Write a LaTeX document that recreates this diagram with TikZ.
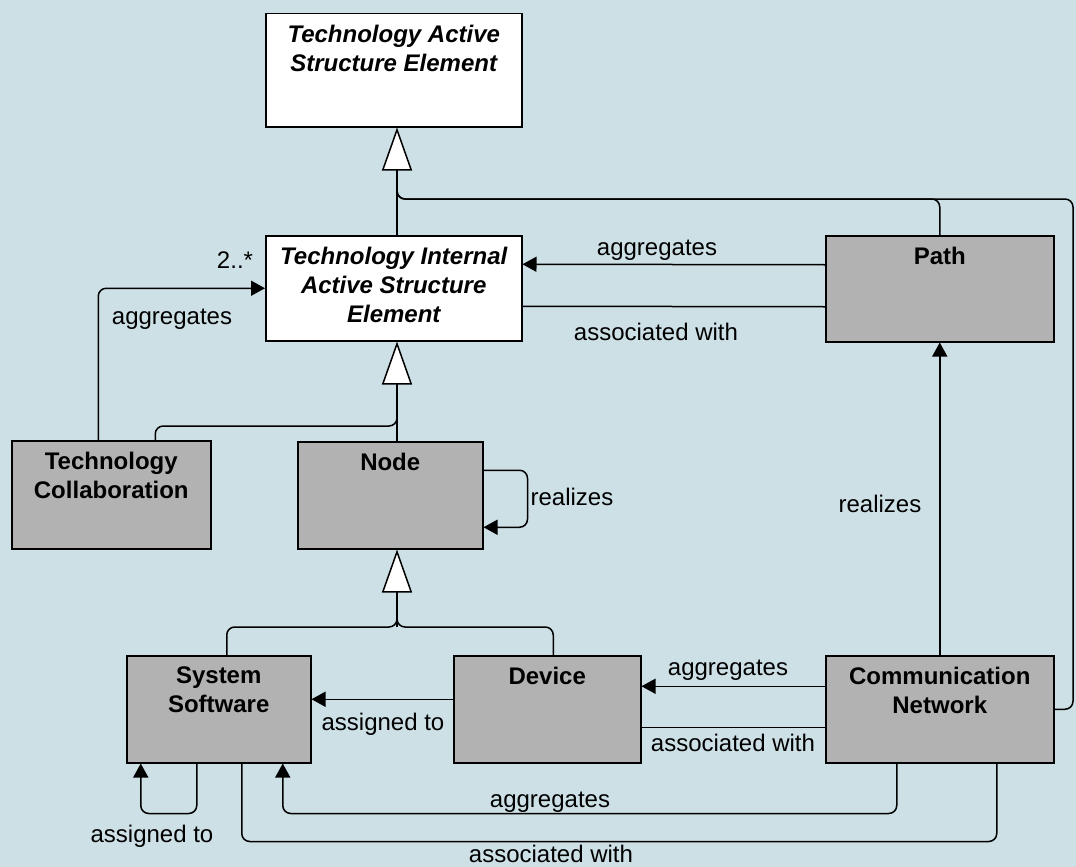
\documentclass[tikz,border=0pt]{standalone}
\usepackage{fontspec}
\setmainfont{Liberation Sans}
\usetikzlibrary{arrows.meta}
\definecolor{bgc}{RGB}{205,224,230}
\definecolor{boxgray}{RGB}{178,178,178}
\begin{document}
\begin{tikzpicture}[x=1pt,y=-1pt,
  ubox/.style={draw=black, line width=1.5pt, anchor=north west, inner sep=0pt},
  wbox/.style={ubox, fill=white},
  gbox/.style={ubox, fill=boxgray},
  boxtitle/.style={font=\fontsize{24}{29}\selectfont\bfseries, align=center, anchor=north, inner sep=0pt},
  iboxtitle/.style={boxtitle, font=\fontsize{24}{29}\selectfont\bfseries\itshape},
  lbl/.style={font=\fontsize{24}{29}\selectfont, anchor=base, inner sep=0pt},
  conn/.style={line width=1.5pt, rounded corners=8pt},
  arr/.style={conn, -{Triangle[length=14pt,width=15pt]}},
  gen/.style={conn, -{Triangle[open, length=43pt, width=30pt, fill=white]}},
]
\fill[bgc] (0,0) rectangle (1076,867);
\useasboundingbox (0,0) rectangle (1076,867);

% boxes
\node[wbox, minimum width=256pt, minimum height=113pt] (tase) at (265,13) {};
\node[wbox, minimum width=256pt, minimum height=105pt] (tiase) at (265,235) {};
\node[gbox, minimum width=228pt, minimum height=106pt] (pth) at (825,235) {};
\node[gbox, minimum width=199pt, minimum height=108pt] (tc) at (11,440) {};
\node[gbox, minimum width=185pt, minimum height=107pt] (nd) at (297,441) {};
\node[gbox, minimum width=184pt, minimum height=107pt] (ss) at (126,655) {};
\node[gbox, minimum width=187pt, minimum height=107pt] (dev) at (453,655) {};
\node[gbox, minimum width=228pt, minimum height=107pt] (cn) at (825,655) {};

% titles
\node[iboxtitle] (tase-t) at ([yshift=-12pt]tase.north) {Technology Active\\Structure Element};
\node[iboxtitle] (tiase-t) at ([yshift=-12pt]tiase.north) {Technology Internal\\Active Structure\\Element};
\node[boxtitle] (pth-t) at ([yshift=-12pt]pth.north) {Path};
\node[boxtitle] (tc-t) at ([yshift=-12pt]tc.north) {Technology\\Collaboration};
\node[boxtitle] (nd-t) at ([yshift=-12pt]nd.north) {Node};
\node[boxtitle] (ss-t) at ([yshift=-12pt]ss.north) {System\\Software};
\node[boxtitle] (dev-t) at ([yshift=-12pt]dev.north) {Device};
\node[boxtitle] (cn-t) at ([yshift=-12pt]cn.north) {Communication\\Network};

% junction coordinates
\coordinate (j1) at (397,199);
\coordinate (rr) at (1073,199);
\coordinate (j2) at (397,426);
\coordinate (j3) at (397,627);

% generalizations
\draw[gen] (tiase.north -| j1) -- (tase.south -| j1);
\draw[conn] (pth.north) |- (j1) -- ++(0,-30);
\draw[conn] (cn.east) -| (rr) -- (j1) -- ++(0,-30);

\draw[gen] (nd.north -| j2) -- (tiase.south -| j2);
\draw[conn] ([xshift=44pt]tc.north) |- (j2) -- ++(0,-30);

\draw[gen] (j3) -- (nd.south -| j3);
\draw[conn] ([xshift=8pt]ss.north) |- (j3) -- ++(0,-30);
\draw[conn] ([xshift=6pt]dev.north) |- (j3) -- ++(0,-30);

% other relations
\draw[arr] ([xshift=-13pt]tc.north) |- (tiase.west);
\draw[arr] ([yshift=24pt]pth.west) -- ([yshift=24pt]tiase.east);
\draw[conn] ([yshift=-18pt]pth.west) -- ([yshift=-18pt]tiase.east);
\draw[arr] ([yshift=25pt]nd.east) -- ++(44,0) |- ([yshift=-32pt]nd.east);
\draw[arr] (cn.north) -- (pth.south);
\draw[arr] ([yshift=23pt]cn.west) -- ([yshift=23pt]dev.east);
\draw[conn] ([yshift=-18pt]cn.west) -- ([yshift=-18pt]dev.east);
\draw[arr] ([yshift=10pt]dev.west) -- ([yshift=10pt]ss.east);
\draw[arr] ([xshift=-22pt]ss.south) -- ++(0,50) -| ([xshift=-78pt]ss.south);
\draw[arr] ([xshift=-43pt]cn.south) -- ++(0,50) -| ([xshift=64pt]ss.south);
\draw[conn] ([xshift=57pt]cn.south) -- ++(0,78) -| ([xshift=23pt]ss.south);

% labels
\node[lbl] (l-mult) at (235,268) {2..*};
\node[lbl] (l-tcagg) at (172,324) {aggregates};
\node[lbl] (l-pagg) at (657,255) {aggregates};
\node[lbl] (l-pass) at (656,340) {associated with};
\node[lbl] (l-nreal) at (572,505) {realizes};
\node[lbl] (l-creal) at (880,512) {realizes};
\node[lbl] (l-cagg) at (728,675) {aggregates};
\node[lbl] (l-cass) at (733,751) {associated with};
\node[lbl] (l-dass) at (383,730) {assigned to};
\node[lbl] (l-sass) at (152,842) {assigned to};
\node[lbl] (l-bagg) at (550,807) {aggregates};
\node[lbl] (l-bass) at (551,862) {associated with};
\end{tikzpicture}
\end{document}
